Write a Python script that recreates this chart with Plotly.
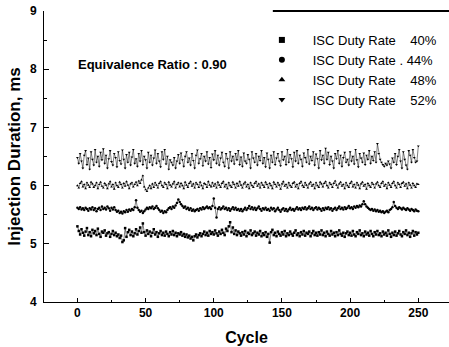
import plotly.graph_objects as go

cycles = list(range(0, 251))

duty_40 = [
    5.30, 5.22, 5.16, 5.25, 5.19, 5.14, 5.21, 5.27, 5.15, 5.20,
    5.13, 5.24, 5.18, 5.22, 5.15, 5.26, 5.17, 5.12, 5.21, 5.19,
    5.23, 5.14, 5.18, 5.20, 5.12, 5.17, 5.22, 5.15, 5.19, 5.13,
    5.16, 5.10, 5.14, 5.03, 5.06, 5.27, 5.12, 5.20, 5.24, 5.15,
    5.21, 5.13, 5.18, 5.25, 5.16, 5.22, 5.28, 5.19, 5.35, 5.20,
    5.14, 5.23, 5.17, 5.21, 5.13, 5.19, 5.25, 5.16, 5.20, 5.12,
    5.18, 5.22, 5.15, 5.19, 5.14, 5.21, 5.17, 5.13, 5.20, 5.16,
    5.22, 5.15, 5.19, 5.13, 5.18, 5.16, 5.20, 5.14, 5.17, 5.12,
    5.16, 5.11, 5.14, 5.09, 5.12, 5.06, 5.13, 5.16, 5.11, 5.15,
    5.18, 5.13, 5.17, 5.21, 5.15, 5.19, 5.14, 5.22, 5.17, 5.20,
    5.16, 5.23, 5.18, 5.14, 5.21, 5.17, 5.24, 5.19, 5.15, 5.26,
    5.22, 5.30, 5.37, 5.20, 5.28, 5.17, 5.23, 5.15, 5.21, 5.18,
    5.14, 5.20, 5.16, 5.22, 5.13, 5.19, 5.17, 5.23, 5.15, 5.18,
    5.21, 5.14, 5.19, 5.16, 5.22, 5.13, 5.18, 5.15, 5.20, 5.12,
    5.17, 5.02, 5.20, 5.24, 5.15, 5.19, 5.13, 5.21, 5.17, 5.14,
    5.20, 5.16, 5.22, 5.13, 5.18, 5.15, 5.21, 5.17, 5.14, 5.19,
    5.23, 5.15, 5.18, 5.13, 5.20, 5.16, 5.22, 5.14, 5.19, 5.17,
    5.21, 5.13, 5.18, 5.22, 5.15, 5.19, 5.14, 5.20, 5.16, 5.23,
    5.15, 5.19, 5.13, 5.21, 5.17, 5.14, 5.22, 5.16, 5.19, 5.13,
    5.20, 5.15, 5.23, 5.17, 5.14, 5.19, 5.12, 5.18, 5.21, 5.15,
    5.19, 5.14, 5.22, 5.16, 5.13, 5.20, 5.17, 5.23, 5.15, 5.18,
    5.13, 5.21, 5.16, 5.19, 5.14, 5.22, 5.17, 5.13, 5.20, 5.16,
    5.22, 5.15, 5.18, 5.13, 5.21, 5.16, 5.19, 5.14, 5.23, 5.17,
    5.12, 5.19, 5.15, 5.21, 5.14, 5.18, 5.22, 5.16, 5.13, 5.20,
    5.17, 5.23, 5.15, 5.19, 5.12, 5.18, 5.22, 5.14, 5.20, 5.16,
    5.19,
]
duty_44 = [
    5.62, 5.60, 5.63, 5.59, 5.61, 5.58, 5.62, 5.60, 5.57, 5.61,
    5.59, 5.63, 5.58, 5.61, 5.56, 5.60, 5.62, 5.58, 5.64, 5.60,
    5.62, 5.59, 5.64, 5.61, 5.57, 5.62, 5.59, 5.63, 5.58, 5.55,
    5.57, 5.53, 5.55, 5.52, 5.56, 5.54, 5.58, 5.55, 5.59, 5.57,
    5.60, 5.58, 5.63, 5.75, 5.62, 5.58, 5.55, 5.57, 5.53, 5.56,
    5.59, 5.62, 5.60, 5.63, 5.61, 5.64, 5.60, 5.62, 5.65, 5.61,
    5.58, 5.55, 5.57, 5.53, 5.56, 5.54, 5.58, 5.61, 5.63, 5.60,
    5.64, 5.62, 5.66, 5.70, 5.76, 5.72, 5.68, 5.65, 5.62, 5.64,
    5.60, 5.62, 5.58, 5.61, 5.57, 5.59, 5.56, 5.58, 5.60, 5.57,
    5.61, 5.59, 5.63, 5.60, 5.62, 5.64, 5.61, 5.63, 5.60, 5.65,
    5.78, 5.62, 5.45, 5.60, 5.63, 5.59, 5.61, 5.64, 5.60, 5.62,
    5.58, 5.61, 5.57, 5.60, 5.63, 5.59, 5.62, 5.58, 5.60, 5.57,
    5.60, 5.56, 5.59, 5.62, 5.58, 5.61, 5.65, 5.60, 5.63, 5.59,
    5.62, 5.58, 5.61, 5.64, 5.60, 5.57, 5.61, 5.59, 5.62, 5.58,
    5.60, 5.57, 5.62, 5.59, 5.61, 5.56, 5.59, 5.62, 5.58, 5.55,
    5.59, 5.61, 5.57, 5.60, 5.56, 5.59, 5.62, 5.58, 5.60, 5.57,
    5.60, 5.63, 5.59, 5.61, 5.58, 5.62, 5.60, 5.63, 5.59, 5.61,
    5.64, 5.60, 5.62, 5.58, 5.61, 5.63, 5.59, 5.62, 5.60, 5.57,
    5.61, 5.58, 5.62, 5.60, 5.63, 5.59, 5.61, 5.57, 5.60, 5.62,
    5.58, 5.61, 5.64, 5.60, 5.62, 5.59, 5.63, 5.60, 5.62, 5.65,
    5.61, 5.63, 5.60, 5.64, 5.62, 5.65, 5.63, 5.66, 5.64, 5.68,
    5.73, 5.68, 5.64, 5.62, 5.60, 5.58, 5.60, 5.57, 5.59, 5.56,
    5.58, 5.55, 5.57, 5.54, 5.56, 5.53, 5.55, 5.57, 5.54, 5.58,
    5.60, 5.63, 5.72, 5.65, 5.62, 5.60, 5.63, 5.61, 5.59, 5.62,
    5.60, 5.58, 5.61, 5.59, 5.57, 5.60, 5.58, 5.56, 5.59, 5.57,
    5.56,
]
duty_48 = [
    6.00, 5.96, 6.04, 6.07, 5.98, 6.02, 5.95, 6.05, 6.01, 5.97,
    6.06, 6.03, 5.97, 6.00, 6.05, 5.95, 6.02, 6.06, 5.99, 5.96,
    6.04, 6.01, 5.95, 6.03, 6.07, 5.98, 6.02, 5.94, 6.05, 6.00,
    5.97, 6.06, 6.02, 5.96, 6.04, 5.99, 6.07, 6.01, 5.95, 6.03,
    6.05, 5.98, 6.02, 6.06, 6.00, 6.08, 6.04, 6.10, 6.17, 5.98,
    5.93, 5.90, 5.96, 6.00, 5.95, 6.03, 5.97, 6.05, 6.01, 5.96,
    6.04, 6.07, 6.00, 5.97, 6.05, 6.02, 5.95, 6.06, 6.01, 5.98,
    6.03, 6.07, 5.96, 6.02, 6.05, 5.98, 6.04, 6.00, 5.95, 6.06,
    6.01, 5.97, 6.04, 6.07, 5.99, 6.03, 5.96, 6.05, 6.02, 5.97,
    6.06, 6.00, 5.95, 6.04, 6.02, 5.97, 6.07, 6.01, 5.98, 6.05,
    5.99, 6.03, 5.96, 6.06, 6.01, 5.97, 6.04, 6.07, 5.98, 6.02,
    5.95, 6.05, 6.00, 5.97, 6.06, 6.02, 5.96, 6.04, 5.99, 6.07,
    6.01, 5.96, 6.03, 6.06, 5.98, 6.02, 5.95, 6.05, 6.00, 5.97,
    6.04, 6.07, 5.99, 6.03, 5.96, 6.05, 6.01, 5.97, 6.06, 6.02,
    5.96, 6.04, 6.00, 5.95, 6.06, 6.02, 5.98, 6.05, 6.01, 5.94,
    6.03, 6.07, 5.99, 6.02, 5.96, 6.05, 6.00, 5.97, 6.04, 6.06,
    5.98, 6.02, 5.95, 6.04, 6.07, 6.00, 5.97, 6.05, 6.01, 5.96,
    6.03, 6.06, 5.99, 6.02, 5.95, 6.05, 6.00, 5.97, 6.06, 6.03,
    5.98, 6.04, 6.07, 6.00, 5.96, 6.05, 6.02, 5.97, 6.04, 6.08,
    6.01, 5.96, 6.03, 6.06, 5.99, 6.02, 5.95, 6.05, 6.00, 5.97,
    6.04, 6.07, 5.98, 6.02, 5.96, 6.05, 6.01, 5.95, 6.03, 6.06,
    5.99, 6.02, 5.94, 6.04, 6.00, 5.97, 6.05, 6.02, 5.96, 6.03,
    6.06, 6.00, 5.97, 6.04, 6.07, 5.99, 6.02, 5.95, 6.05, 6.01,
    5.97, 6.04, 6.07, 6.00, 5.96, 6.05, 6.02, 5.97, 6.04, 6.06,
    5.99, 6.03, 5.95, 6.05, 6.01, 5.96, 6.04, 6.00, 5.97, 6.03,
    6.02,
]
duty_52 = [
    6.48, 6.38, 6.55, 6.42, 6.30, 6.52, 6.60, 6.36, 6.47, 6.28,
    6.58, 6.45, 6.35, 6.62, 6.40, 6.50, 6.33, 6.57, 6.44, 6.63,
    6.38, 6.52, 6.30, 6.46, 6.60, 6.41, 6.35, 6.55, 6.48, 6.32,
    6.58, 6.43, 6.37, 6.61, 6.45, 6.30, 6.53, 6.40, 6.57, 6.35,
    6.49, 6.62, 6.38, 6.46, 6.33, 6.55, 6.42, 6.60, 6.36, 6.50,
    6.44, 6.30, 6.57, 6.40, 6.52, 6.35, 6.47, 6.61, 6.38, 6.55,
    6.42, 6.32, 6.58, 6.45, 6.62, 6.37, 6.50, 6.28, 6.44, 6.40,
    6.35, 6.48, 6.30, 6.42, 6.53, 6.38, 6.56, 6.44, 6.33, 6.50,
    6.58, 6.40, 6.47, 6.35, 6.55, 6.43, 6.30, 6.52, 6.61, 6.38,
    6.46, 6.55, 6.34, 6.50, 6.42, 6.58, 6.37, 6.48, 6.31, 6.54,
    6.44, 6.60, 6.38, 6.52, 6.35, 6.47, 6.57, 6.40, 6.33, 6.55,
    6.46, 6.30, 6.58, 6.42, 6.50, 6.37, 6.55, 6.44, 6.60, 6.36,
    6.49, 6.33, 6.56, 6.42, 6.38, 6.53, 6.45, 6.30, 6.58, 6.47,
    6.40, 6.55, 6.35, 6.50, 6.43, 6.60, 6.38, 6.48, 6.32, 6.56,
    6.45, 6.30, 6.52, 6.40, 6.58, 6.36, 6.47, 6.55, 6.42, 6.34,
    6.58, 6.44, 6.50, 6.36, 6.62, 6.40, 6.53, 6.46, 6.32, 6.57,
    6.42, 6.60, 6.38, 6.52, 6.45, 6.33, 6.56, 6.48, 6.40, 6.62,
    6.37, 6.50, 6.43, 6.58, 6.35, 6.54, 6.46, 6.30, 6.60, 6.44,
    6.52, 6.38, 6.64, 6.45, 6.57, 6.36, 6.50, 6.42, 6.30, 6.55,
    6.46, 6.60, 6.38, 6.52, 6.33, 6.48, 6.57, 6.40, 6.45, 6.35,
    6.58, 6.42, 6.50, 6.37, 6.62, 6.44, 6.32, 6.55, 6.47, 6.40,
    6.56, 6.36, 6.52, 6.45, 6.60, 6.38, 6.50, 6.43, 6.58, 6.40,
    6.72, 6.55, 6.45, 6.40, 6.36, 6.33, 6.38, 6.35, 6.42, 6.37,
    6.30, 6.47, 6.40, 6.55, 6.36, 6.50, 6.62, 6.42, 6.30, 6.58,
    6.45, 6.35, 6.28, 6.60, 6.52, 6.40, 6.62, 6.48, 6.40, 6.42,
    6.68,
]

NB = "\u00a0"
series = [
    (NB * 3 + "ISC Duty Rate" + NB * 4 + "40%", duty_40, "square"),
    (NB * 3 + "ISC Duty Rate" + NB + "." + NB + "44%", duty_44, "circle"),
    (NB * 3 + "ISC Duty Rate" + NB * 4 + "48%", duty_48, "triangle-up"),
    (NB * 3 + "ISC Duty Rate" + NB * 4 + "52%", duty_52, "triangle-down"),
]

FONT = "Liberation Sans, Arial, sans-serif"
fig = go.Figure()
for name, vals, sym in series:
    fig.add_trace(go.Scatter(
        x=cycles, y=vals, mode="lines+markers", showlegend=False,
        line=dict(color="black", width=0.5),
        marker=dict(symbol=sym, size=2.5, color="black"),
        legendgroup=name,
    ))
for name, vals, sym in series:
    fig.add_trace(go.Scatter(
        x=[None], y=[None], mode="markers", name=name, legendgroup=name,
        marker=dict(symbol=sym, size=6, color="black"),
    ))

fig.update_layout(
    width=449, height=347,
    margin=dict(l=44, r=0, t=11, b=45),
    paper_bgcolor="white", plot_bgcolor="white",
    font=dict(family=FONT, color="black"),
    legend=dict(x=0.538, y=0.952, xanchor="left", yanchor="top",
                font=dict(size=13, family=FONT), tracegroupgap=0,
                bgcolor="rgba(0,0,0,0)", itemwidth=30),
    xaxis=dict(range=[-24.5, 272.5], tickvals=[0, 50, 100, 150, 200, 250],
               ticks="inside", ticklen=4, tickwidth=1, tickcolor="black",
               minor=dict(tickvals=[25, 75, 125, 175, 225], ticks="inside", ticklen=2, tickcolor="black"),
               showline=True, linecolor="black", linewidth=1, showgrid=False, zeroline=False,
               tickfont=dict(size=12, family=FONT, weight="bold"),
               title=dict(text="<b>Cycle</b>", font=dict(size=16, family=FONT), standoff=12)),
    yaxis=dict(range=[4, 9], tickvals=[4, 5, 6, 7, 8, 9],
               ticks="inside", ticklen=5, tickwidth=1, tickcolor="black",
               minor=dict(tickvals=[4.5, 5.5, 6.5, 7.5, 8.5], ticks="inside", ticklen=3, tickcolor="black"),
               showline=True, linecolor="black", linewidth=1, showgrid=False, zeroline=False,
               ticklabelstandoff=4,
               tickfont=dict(size=12, family=FONT, weight="bold"),
               title=dict(text="<b>Injection Duration, ms</b>", font=dict(size=17, family=FONT), standoff=4)),
)
fig.add_annotation(text="<b>Equivalence Ratio : 0.90</b>", xref="paper", yref="paper",
                   x=0.08, y=0.815, xanchor="left", yanchor="middle", showarrow=False,
                   font=dict(size=13, family=FONT))
fig.add_shape(type="line", xref="paper", yref="paper", x0=0.565, x1=1, y0=1, y1=1,
              line=dict(color="black", width=2))

fig.write_html("out.html")
